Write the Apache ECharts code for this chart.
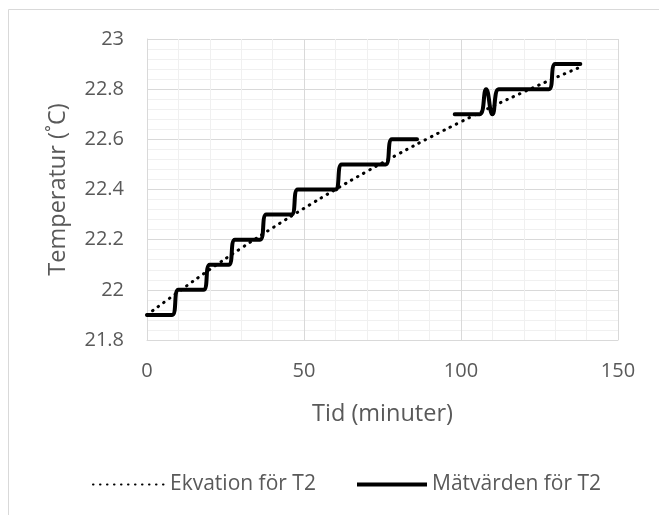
<!DOCTYPE html>
<html>
<head>
<meta charset="utf-8">
<script src="https://cdn.jsdelivr.net/npm/echarts@6/dist/echarts.min.js"></script>
<style>
html,body{margin:0;padding:0;background:#fff;}
#chart{width:659px;height:515px;}
</style>
</head>
<body>
<div id="chart"></div>
<script>
// Measured values (Mätvärden för T2), time in minutes; null = gap in data
const measTimes = [0,2,4,6,8,10,12,14,16,18,20,22,24,26,28,30,32,34,36,38,40,42,44,46,48,50,52,54,56,58,60,62,64,66,68,70,72,74,76,78,80,82,84,86,92,98,100,102,104,106,108,110,112,114,116,118,120,122,124,126,128,130,132,134,136,138];
const measValues = [21.9,21.9,21.9,21.9,21.9,22.0,22.0,22.0,22.0,22.0,22.1,22.1,22.1,22.1,22.2,22.2,22.2,22.2,22.2,22.3,22.3,22.3,22.3,22.3,22.4,22.4,22.4,22.4,22.4,22.4,22.4,22.5,22.5,22.5,22.5,22.5,22.5,22.5,22.5,22.6,22.6,22.6,22.6,22.6,null,22.7,22.7,22.7,22.7,22.7,22.8,22.7,22.8,22.8,22.8,22.8,22.8,22.8,22.8,22.8,22.8,22.9,22.9,22.9,22.9,22.9];
// Equation curve (Ekvation för T2)
const eqTimes = [0,10,20,30,40,50,60,70,80,90,100,110,120,130,138];
const eqValues = [21.900,21.992,22.081,22.166,22.247,22.325,22.400,22.472,22.541,22.607,22.670,22.731,22.789,22.845,22.888];

const xTicks = {min:0, max:150, interval:50};
const yTicks = {min:21.8, max:23, interval:0.2};
const seriesNames = ['Ekvation för T2','Mätvärden för T2'];
const axisNames = {x:'Tid (minuter)', y:'Temperatur (˚C)'};

const zip = (a,b)=>a.map((t,i)=>[t,b[i]]);
const FONT = '"Open Sans", "Noto Sans", sans-serif';
const GREY = '#595959';
const chart = echarts.init(document.getElementById('chart'), null, {renderer:'canvas'});
chart.setOption({
  animation:false,
  backgroundColor:'#ffffff',
  textStyle:{fontFamily:FONT},
  graphic:[{type:'rect', shape:{x:8.5,y:9.5,width:700,height:600}, style:{fill:'none',stroke:'#d9d9d9',lineWidth:1}, silent:true, z:-1}],
  grid:{left:147, right:41, top:39, bottom:175, containLabel:false},
  xAxis:{type:'value', min:xTicks.min, max:xTicks.max, interval:xTicks.interval,
    name:axisNames.x, nameLocation:'middle', nameGap:62,
    nameTextStyle:{color:GREY, fontSize:23.5, fontFamily:FONT},
    axisLine:{show:true, onZero:false, lineStyle:{color:'#d9d9d9', width:1}},
    axisTick:{show:false},
    axisLabel:{color:GREY, fontSize:20, margin:21, fontFamily:FONT},
    splitLine:{show:true, lineStyle:{color:'#d9d9d9', width:1}},
    minorTick:{show:false, splitNumber:5},
    minorSplitLine:{show:true, lineStyle:{color:'#f0f0f0', width:1}}
  },
  yAxis:{type:'value', min:yTicks.min, max:yTicks.max, interval:yTicks.interval,
    name:axisNames.y, nameLocation:'middle', nameGap:77, nameRotate:90,
    nameTextStyle:{color:GREY, fontSize:23.5, fontFamily:FONT},
    axisLine:{show:true, onZero:false, lineStyle:{color:'#d9d9d9', width:1}},
    axisTick:{show:false},
    axisLabel:{color:GREY, fontSize:20, margin:23, fontFamily:FONT},
    splitLine:{show:true, lineStyle:{color:'#d9d9d9', width:1}},
    minorTick:{show:false, splitNumber:5},
    minorSplitLine:{show:true, lineStyle:{color:'#f0f0f0', width:1}}
  },
  legend:[
    {data:[seriesNames[0]], left:87, top:469, itemWidth:72, itemHeight:14, itemGap:0,
      itemStyle:{opacity:0},
      textStyle:{color:GREY, fontSize:21, fontFamily:FONT}},
    {data:[{name:seriesNames[1], icon:'rect'}], left:352, top:469, itemWidth:70, itemHeight:4, itemGap:0,
      itemStyle:{color:'#000'},
      textStyle:{color:GREY, fontSize:21, fontFamily:FONT}}
  ],
  series:[
    {name:seriesNames[0], type:'line', data:zip(eqTimes,eqValues), smooth:true, showSymbol:false, symbol:'none',
      lineStyle:{color:'#000', width:3, type:[0.5,6.5], cap:'round'}, itemStyle:{color:'#000'}, z:3},
    {name:seriesNames[1], type:'line', data:zip(measTimes,measValues), smooth:0.5, connectNulls:false, showSymbol:false, symbol:'none',
      lineStyle:{color:'#000', width:4, cap:'round', join:'round'}, itemStyle:{color:'#000'}, z:4}
  ]
});
</script>
</body>
</html>
